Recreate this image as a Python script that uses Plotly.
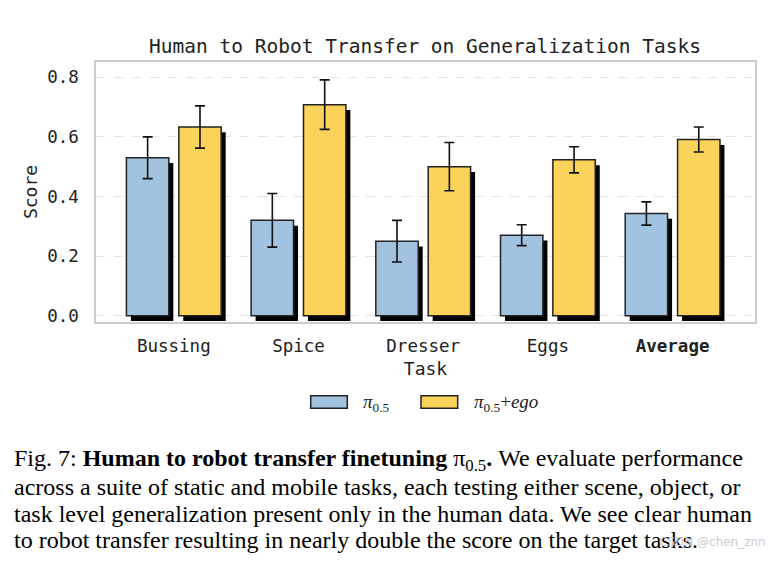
import plotly.graph_objects as go

# ---------------- data ----------------
tasks = ["Bussing", "Spice", "Dresser", "Eggs", "Average"]
tick_text = ["Bussing", "Spice", "Dresser", "Eggs", "<b>Average</b>"]
pi05 = [0.53, 0.32, 0.25, 0.27, 0.343]
pi05_err = [0.07, 0.09, 0.07, 0.035, 0.039]
pi05_ego = [0.633, 0.708, 0.50, 0.523, 0.591]
pi05_ego_err = [0.071, 0.083, 0.081, 0.044, 0.042]
series_names = ["<i>π</i><sub>0.5</sub>", "<i>π</i><sub>0.5</sub>+<i>ego</i>"]
y_ticks = [0.0, 0.2, 0.4, 0.6, 0.8]

title = "Human to Robot Transfer on Generalization Tasks"
caption_lines = [
    "Fig. 7: <b>Human to robot transfer finetuning</b> π<sub>0.5</sub><b>.</b> We evaluate performance",
    "across a suite of static and mobile tasks, each testing either scene, object, or",
    "task level generalization present only in the human data. We see clear human",
    "to robot transfer resulting in nearly double the score on the target tasks.",
]
watermark = "CSDN @chen_znn"

# ---------------- style ----------------
W, H = 774, 561
ML, MR, MT, MB = 96, 19, 62, 239
PW, PH = W - ML - MR, H - MT - MB
BLUE = "#a1c3e0"
YELLOW = "#fbd35a"
EDGE = "#222222"
MONO = "DejaVu Sans Mono"
SERIF = "Liberation Serif"
BAR_W = 0.34
OFFS = [-0.38, 0.04]
SH_DX = 0.036   # shadow shift in category units
SH_DY = 0.018   # shadow shift in score units


def px_x(p):
    return (p - ML) / PW


def px_y(p):
    return (H - MB - p) / PH


fig = go.Figure()

# shadows
for vals, off in [(pi05, OFFS[0]), (pi05_ego, OFFS[1])]:
    fig.add_trace(go.Bar(
        x=tasks, y=vals, base=-SH_DY, offset=off + SH_DX, width=BAR_W,
        marker=dict(color="black", line=dict(width=0)),
        showlegend=False, hoverinfo="skip",
    ))

# main bars
for vals, errs, off, col, name in [
    (pi05, pi05_err, OFFS[0], BLUE, series_names[0]),
    (pi05_ego, pi05_ego_err, OFFS[1], YELLOW, series_names[1]),
]:
    fig.add_trace(go.Bar(
        x=tasks, y=vals, offset=off, width=BAR_W, name=name,
        marker=dict(color=col, line=dict(color=EDGE, width=1.5)),
        error_y=dict(type="data", array=errs, color="#111111", thickness=1.6, width=5),
        showlegend=False,
    ))

fig.update_layout(
    width=W, height=H,
    margin=dict(l=ML, r=MR, t=MT, b=MB),
    paper_bgcolor="white", plot_bgcolor="white",
    barmode="overlay",
    font=dict(family=MONO, color="#222222"),
    title=dict(text=title, font=dict(family=MONO, size=19.5, color="#222222"),
               x=px_x(425), xref="paper", xanchor="center",
               y=1 - 46 / H, yref="container", yanchor="middle"),
    showlegend=False,
)

fig.update_xaxes(
    type="category", categoryorder="array", categoryarray=tasks,
    tickvals=tasks, ticktext=tick_text,
    range=[-0.624, 4.661],
    tickfont=dict(family=MONO, size=17.5, color="#222222"),
    ticks="outside", ticklen=7, tickcolor="rgba(0,0,0,0)",
    showgrid=False, zeroline=False,
    showline=True, mirror=True, linecolor="#cccccc", linewidth=1.5,
    title=dict(text="Task", font=dict(family=MONO, size=18, color="#222222"), standoff=8),
)
fig.update_yaxes(
    range=[-0.021, 0.851],
    tickvals=y_ticks, tickformat=".1f",
    tickfont=dict(family=MONO, size=17.5, color="#222222"),
    ticks="outside", ticklen=12, tickcolor="rgba(0,0,0,0)",
    showgrid=True, gridcolor="#e3e3e3", griddash="dash", gridwidth=0.8,
    zeroline=False,
    showline=True, mirror=True, linecolor="#cccccc", linewidth=1.5,
    title=dict(text="Score", font=dict(family=MONO, size=18, color="#222222"), standoff=5),
)

# custom legend
leg = [(310.7, 347.3, 361.0, BLUE, series_names[0]),
       (421.0, 457.7, 472.0, YELLOW, series_names[1])]
for x0, x1, tx, col, name in leg:
    fig.add_shape(type="rect", xref="paper", yref="paper",
                  x0=px_x(x0), x1=px_x(x1), y0=px_y(408.3), y1=px_y(395.7),
                  fillcolor=col, line=dict(color=EDGE, width=1.5))
    fig.add_annotation(text=name, xref="paper", yref="paper",
                       x=px_x(tx), y=px_y(402.5), xanchor="left", yanchor="middle",
                       showarrow=False, font=dict(family=SERIF, size=19, color="#222222"))

# caption
caption_y = [459.5, 487.2, 513.6, 540.0]
for line, cy in zip(caption_lines, caption_y):
    fig.add_annotation(text=line, xref="paper", yref="paper",
                       x=px_x(12), y=px_y(cy), xanchor="left", yanchor="middle",
                       showarrow=False, font=dict(family=SERIF, size=24, color="black"))

fig.add_annotation(text=watermark, xref="paper", yref="paper",
                   x=px_x(768), y=px_y(542), xanchor="right", yanchor="middle",
                   showarrow=False, font=dict(family="DejaVu Sans", size=12, color="#cccccc"))

fig.write_html("out.html", config={"displayModeBar": False},
               post_script="document.body.style.margin='0';")
